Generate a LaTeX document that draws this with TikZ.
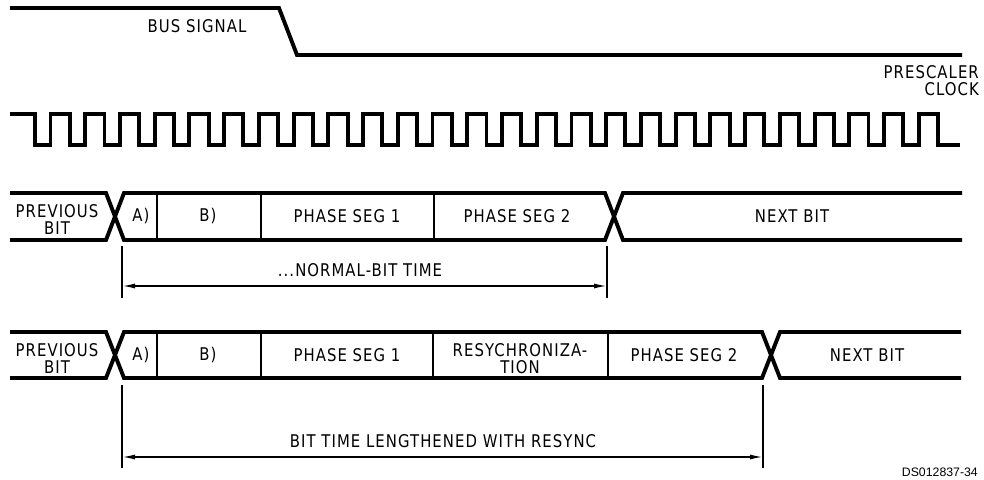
\documentclass[tikz,border=0pt]{standalone}
\usepackage{fontspec}
\setmainfont{DejaVu Sans}[FakeStretch=0.85, LetterSpace=6]
\newfontfamily\refont{Liberation Sans}
\usetikzlibrary{arrows.meta}
\begin{document}
\begin{tikzpicture}[x=1pt,y=-1pt,
  sig/.style={line width=3.9pt, line join=miter},
  divider/.style={line width=2.8pt},
  ext/.style={line width=1.2pt},
  dim/.style={line width=1.5pt, {Latex[length=13pt,width=5pt]}-{Latex[length=13pt,width=5pt]}},
  lbl/.style={inner sep=0pt, font=\fontsize{17.5}{17}\selectfont, align=center}]
\useasboundingbox (0,0) rectangle (984,479);

% bus signal
\draw[sig] (10,8) -- (279,8) -- (297,55) -- (962,55);
\node[lbl] (bus) at (197,26) {BUS SIGNAL};
\node[lbl, anchor=east, align=right] (presc) at (979,81) {PRESCALER\\CLOCK};

% prescaler clock
\draw[sig] (10,114) foreach \k in {0,...,25} {
    -- ({35+34.73*\k},114) -- ({35+34.73*\k},145)
    -- ({50.5+34.73*\k},145) -- ({50.5+34.73*\k},114) }
  -- (938,114) -- (938,145) -- (960,145);

% row 1 (normal bit)
\draw[sig] (10,193) -- (106,193) -- (124,240) -- (605,240) -- (623,193) -- (962,193);
\draw[sig] (10,240) -- (106,240) -- (124,193) -- (605,193) -- (623,240) -- (962,240);
\foreach \x in {157,261,434} \draw[divider] (\x,193) -- (\x,240);
\node[lbl] (prev1) at (57,219.5) {PREVIOUS\\BIT};
\node[lbl] (a1) at (141,216.5) {A)};
\node[lbl] (b1) at (208,216.5) {B)};
\node[lbl] (ps11) at (347,216.5) {PHASE SEG 1};
\node[lbl] (ps21) at (517,216.5) {PHASE SEG 2};
\node[lbl] (next1) at (792,216.5) {NEXT BIT};

% dimension 1
\coordinate (d1a) at (122,286);
\coordinate (d1b) at (607,286);
\draw[ext] (122,246) -- (122,298);
\draw[ext] (607,246) -- (607,298);
\draw[dim] (d1a) -- (d1b);
\node[lbl] (nbt) at (360,270) {...NORMAL-BIT TIME};

% row 2 (lengthened bit)
\draw[sig] (10,332) -- (106,332) -- (124,378) -- (762,378) -- (780,332) -- (961,332);
\draw[sig] (10,378) -- (106,378) -- (124,332) -- (762,332) -- (780,378) -- (961,378);
\foreach \x in {157,261,433,608} \draw[divider] (\x,332) -- (\x,378);
\node[lbl] (prev2) at (57,358.5) {PREVIOUS\\BIT};
\node[lbl] (a2) at (141,355) {A)};
\node[lbl] (b2) at (208,355) {B)};
\node[lbl] (ps12) at (347,355) {PHASE SEG 1};
\node[lbl] (resync) at (520,358.5) {RESYCHRONIZA-\\TION};
\node[lbl] (ps22) at (684,355) {PHASE SEG 2};
\node[lbl] (next2) at (867,355) {NEXT BIT};

% dimension 2
\coordinate (d2a) at (122,457);
\coordinate (d2b) at (763,457);
\draw[ext] (122,385) -- (122,468);
\draw[ext] (763,385) -- (763,468);
\draw[dim] (d2a) -- (d2b);
\node[lbl] (lbt) at (443,441) {BIT TIME LENGTHENED WITH RESYNC};

\node[inner sep=0pt, anchor=east, font=\refont\fontsize{12.3}{14}\selectfont] (ds) at (978,472) {DS012837-34};
\end{tikzpicture}
\end{document}
